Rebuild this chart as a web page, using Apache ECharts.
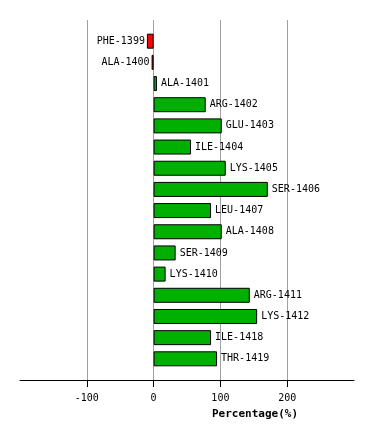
<!DOCTYPE html>
<html><head><meta charset="utf-8">
<script src="https://cdn.jsdelivr.net/npm/echarts@6/dist/echarts.min.js"></script>
<style>html,body{margin:0;padding:0;background:#fff}#c{width:374px;height:440px}</style>
</head><body><div id="c"></div>
<script>
const residues = ['PHE-1399','ALA-1400','ALA-1401','ARG-1402','GLU-1403','ILE-1404','LYS-1405','SER-1406','LEU-1407','ALA-1408','SER-1409','LYS-1410','ARG-1411','LYS-1412','ILE-1418','THR-1419'];
const percentages = [-10, -3, 5, 78, 102, 56, 108, 171, 86, 102, 33, 18, 144, 155, 86, 95];
const xTicks = [-100, 0, 100, 200];
const axisTitle = 'Percentage(%)';

const cats = [''].concat(residues, ['']);
const data = ['-'].concat(percentages.map((v, i) => ({
  value: v,
  itemStyle: { color: v < 0 ? '#ff0000' : '#00b000' },
  label: { position: v < 0 ? 'left' : 'right', distance: v < 0 ? 2 : 4 }
})), ['-']);
const mono = 'DejaVu Sans Mono';
const chart = echarts.init(document.getElementById('c'));
chart.setOption({
  animation: false,
  grid: { left: 20, right: 20, top: 20, bottom: 60 },
  xAxis: [{
    type: 'value', min: -200, max: 300, interval: 100,
    axisLine: { show: true, onZero: false, lineStyle: { color: '#000', width: 1 } },
    axisTick: { show: true, length: 7, customValues: xTicks, lineStyle: { color: '#000' } },
    axisLabel: { customValues: xTicks, color: '#000', fontFamily: mono, fontSize: 10, margin: 13 },
    splitLine: { show: false }
  }, {
    type: 'value', min: -200, max: 300, interval: 100, position: 'bottom',
    axisLine: { show: false }, axisTick: { show: false }, axisLabel: { show: false },
    splitLine: { show: true, showMinLine: false, showMaxLine: false, lineStyle: { color: '#a0a0a0', width: 1 } }
  }],
  yAxis: {
    type: 'category', data: cats, inverse: true, boundaryGap: false,
    axisLine: { show: false }, axisTick: { show: false }, axisLabel: { show: false }, splitLine: { show: false }
  },
  series: [{
    type: 'bar', data: data, barWidth: 15, xAxisIndex: 0,
    itemStyle: { borderColor: '#000', borderWidth: 1 },
    label: { show: true, color: '#000', fontFamily: mono, fontSize: 10,
      formatter: p => p.name }
  }],
  graphic: [{
    type: 'text', x: 255, y: 414,
    style: { text: axisTitle, fontFamily: mono, fontSize: 11, fontWeight: 'bold', fill: '#000',
      textAlign: 'center', textVerticalAlign: 'middle' }
  }]
});
</script></body></html>
